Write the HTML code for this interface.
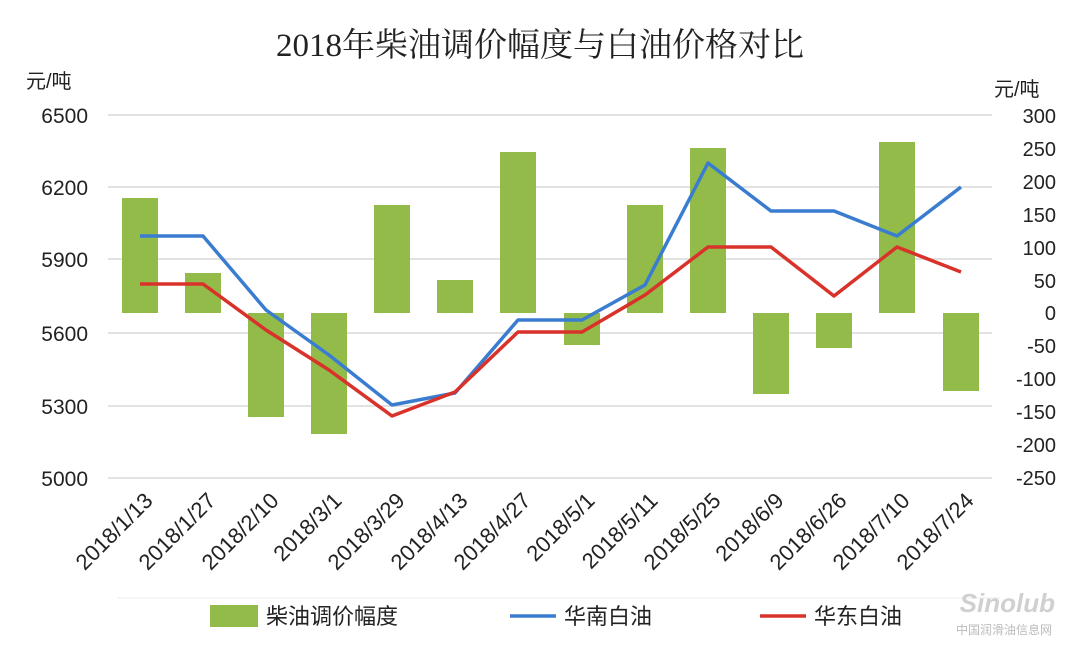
<!DOCTYPE html>
<html><head><meta charset="utf-8"><style>
body{margin:0;background:#fff;}
svg text{font-family:"Liberation Sans","Noto Sans CJK SC",sans-serif;fill:#222;}
</style></head><body>
<svg width="1080" height="650" xmlns="http://www.w3.org/2000/svg">
<rect width="1080" height="650" fill="#fff"/>
<text x="540" y="56" font-size="33" text-anchor="middle" style="font-family:'Liberation Serif','Noto Serif CJK SC',serif">2018年柴油调价幅度与白油价格对比</text>
<text x="26" y="88" font-size="20" fill="#444">元/吨</text>
<text x="994" y="96" font-size="20">元/吨</text>
<g stroke="#d9d9d9" stroke-width="1.5">
<line x1="108" y1="115" x2="992" y2="115"/>
<line x1="108" y1="187" x2="992" y2="187"/>
<line x1="108" y1="259" x2="992" y2="259"/>
<line x1="108" y1="333" x2="992" y2="333"/>
<line x1="108" y1="406" x2="992" y2="406"/>
<line x1="108" y1="478" x2="992" y2="478"/>
</g>
<g font-size="21" text-anchor="end">
<text x="88" y="123">6500</text><text x="88" y="195">6200</text><text x="88" y="267">5900</text>
<text x="88" y="341">5600</text><text x="88" y="414">5300</text><text x="88" y="486">5000</text>
</g>
<g font-size="20" text-anchor="end">
<text x="1056" y="123">300</text><text x="1056" y="156">250</text><text x="1056" y="189">200</text>
<text x="1056" y="222">150</text><text x="1056" y="255">100</text><text x="1056" y="288">50</text>
<text x="1056" y="320">0</text><text x="1056" y="353">-50</text><text x="1056" y="386">-100</text>
<text x="1056" y="419">-150</text><text x="1056" y="452">-200</text><text x="1056" y="485">-250</text>
</g>
<g fill="#92bb4a">
<rect x="122" y="198" width="36" height="115"/>
<rect x="185" y="273" width="36" height="40"/>
<rect x="248" y="313" width="36" height="104"/>
<rect x="311" y="313" width="36" height="121"/>
<rect x="374" y="205" width="36" height="108"/>
<rect x="437" y="280" width="36" height="33"/>
<rect x="500" y="152" width="36" height="161"/>
<rect x="564" y="313" width="36" height="32"/>
<rect x="627" y="205" width="36" height="108"/>
<rect x="690" y="148" width="36" height="165"/>
<rect x="753" y="313" width="36" height="81"/>
<rect x="816" y="313" width="36" height="35"/>
<rect x="879" y="142" width="36" height="171"/>
<rect x="943" y="313" width="36" height="78"/>
</g>
<polyline fill="none" stroke="#3a7dd0" stroke-width="3.5" stroke-linejoin="round" points="140,236 203,236 266,310 329,355 392,405 455,393 518,320 582,320 645,285 708,163 771,211 834,211 897,236 961,187"/>
<polyline fill="none" stroke="#d9322a" stroke-width="3.5" stroke-linejoin="round" points="140,284 203,284 266,330 329,370 392,416 455,392 518,332 582,332 645,295 708,247 771,247 834,296 897,247 961,272"/>
<g font-size="22" text-anchor="end">
<text transform="translate(154,502) rotate(-45)">2018/1/13</text>
<text transform="translate(217,502) rotate(-45)">2018/1/27</text>
<text transform="translate(280,502) rotate(-45)">2018/2/10</text>
<text transform="translate(343,502) rotate(-45)">2018/3/1</text>
<text transform="translate(406,502) rotate(-45)">2018/3/29</text>
<text transform="translate(469,502) rotate(-45)">2018/4/13</text>
<text transform="translate(532,502) rotate(-45)">2018/4/27</text>
<text transform="translate(596,502) rotate(-45)">2018/5/1</text>
<text transform="translate(659,502) rotate(-45)">2018/5/11</text>
<text transform="translate(722,502) rotate(-45)">2018/5/25</text>
<text transform="translate(785,502) rotate(-45)">2018/6/9</text>
<text transform="translate(848,502) rotate(-45)">2018/6/26</text>
<text transform="translate(911,502) rotate(-45)">2018/7/10</text>
<text transform="translate(975,502) rotate(-45)">2018/7/24</text>
</g>
<line x1="118" y1="598" x2="1000" y2="598" stroke="#eee"/>
<rect x="210" y="605" width="48" height="22" fill="#92bb4a"/>
<text x="266" y="624" font-size="22">柴油调价幅度</text>
<line x1="510" y1="616" x2="556" y2="616" stroke="#3a7dd0" stroke-width="3.5"/>
<text x="564" y="624" font-size="22">华南白油</text>
<line x1="760" y1="616" x2="806" y2="616" stroke="#d9322a" stroke-width="3.5"/>
<text x="814" y="624" font-size="22">华东白油</text>
<text x="1055" y="612" font-size="26" font-style="italic" font-weight="bold" text-anchor="end" style="fill:#d0d0d0">Sinolub</text>
<text x="1052" y="634" font-size="12" text-anchor="end" style="fill:#bbb">中国润滑油信息网</text>
</svg>
</body></html>
